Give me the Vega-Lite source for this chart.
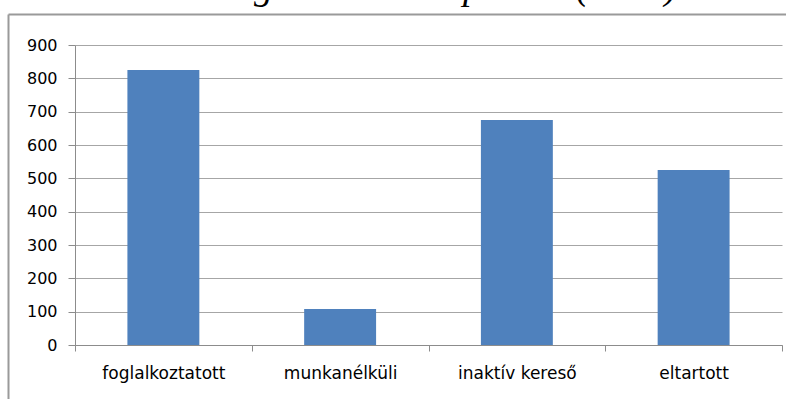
{
  "$schema": "https://vega.github.io/schema/vega-lite/v6.json",
  "width": 707,
  "height": 300,
  "autosize": {"type": "none"},
  "padding": {"left": 75, "top": 45, "right": 4, "bottom": 54},
  "background": "white",
  "title": {
    "text": "A lakosság a munkaerőpiacon (2013)",
    "font": "Liberation Serif",
    "fontStyle": "italic",
    "fontWeight": "normal",
    "fontSize": 38,
    "color": "black",
    "anchor": "start",
    "frame": "group",
    "dx": 33,
    "baseline": "alphabetic",
    "offset": -23
  },
  "data": {
    "values": [
      {"status": "foglalkoztatott", "value": 825},
      {"status": "munkanélküli", "value": 108},
      {"status": "inaktív kereső", "value": 675},
      {"status": "eltartott", "value": 525}
    ]
  },
  "layer": [
    {
      "mark": {"type": "bar", "color": "#4f81bd", "width": {"band": 0.407}},
      "encoding": {
        "x": {
          "field": "status",
          "type": "nominal",
          "sort": null,
          "scale": {"paddingInner": 0, "paddingOuter": 0},
          "axis": {
            "title": null,
            "labelAngle": 0,
            "tickBand": "extent",
            "grid": false,
            "domainColor": "#8c8c8c",
            "tickColor": "#8c8c8c",
            "tickSize": 6,
            "labelFont": "DejaVu Sans",
            "labelFontSize": 17,
            "labelColor": "#000000",
            "labelPadding": 14
          }
        },
        "y": {
          "field": "value",
          "type": "quantitative",
          "scale": {"domain": [0, 900], "nice": false},
          "axis": {
            "title": null,
            "values": [0, 100, 200, 300, 400, 500, 600, 700, 800, 900],
            "grid": true,
            "gridColor": "#a6a6a6",
            "gridWidth": 1,
            "domainColor": "#8c8c8c",
            "tickColor": "#8c8c8c",
            "tickSize": 7,
            "labelFont": "DejaVu Sans",
            "labelFontSize": 16,
            "labelColor": "#000000",
            "labelPadding": 11
          }
        }
      }
    },
    {
      "mark": {"type": "point", "opacity": 0},
      "encoding": {
        "x": {
          "field": "value",
          "type": "quantitative",
          "scale": {"domain": [0, 900], "range": [-67, 730], "nice": false},
          "axis": {
            "orient": "top",
            "offset": 31,
            "title": null,
            "labels": false,
            "ticks": false,
            "grid": false,
            "domainColor": "#9a9a9a",
            "domainWidth": 2
          }
        },
        "y": {
          "field": "value",
          "type": "quantitative",
          "scale": {"domain": [0, 900], "range": [420, -31], "nice": false},
          "axis": {
            "orient": "left",
            "offset": 67,
            "title": null,
            "labels": false,
            "ticks": false,
            "grid": false,
            "domainColor": "#9a9a9a",
            "domainWidth": 2
          }
        }
      }
    }
  ],
  "resolve": {
    "scale": {"x": "independent", "y": "independent"},
    "axis": {"x": "independent", "y": "independent"}
  },
  "config": {"view": {"stroke": null}}
}
